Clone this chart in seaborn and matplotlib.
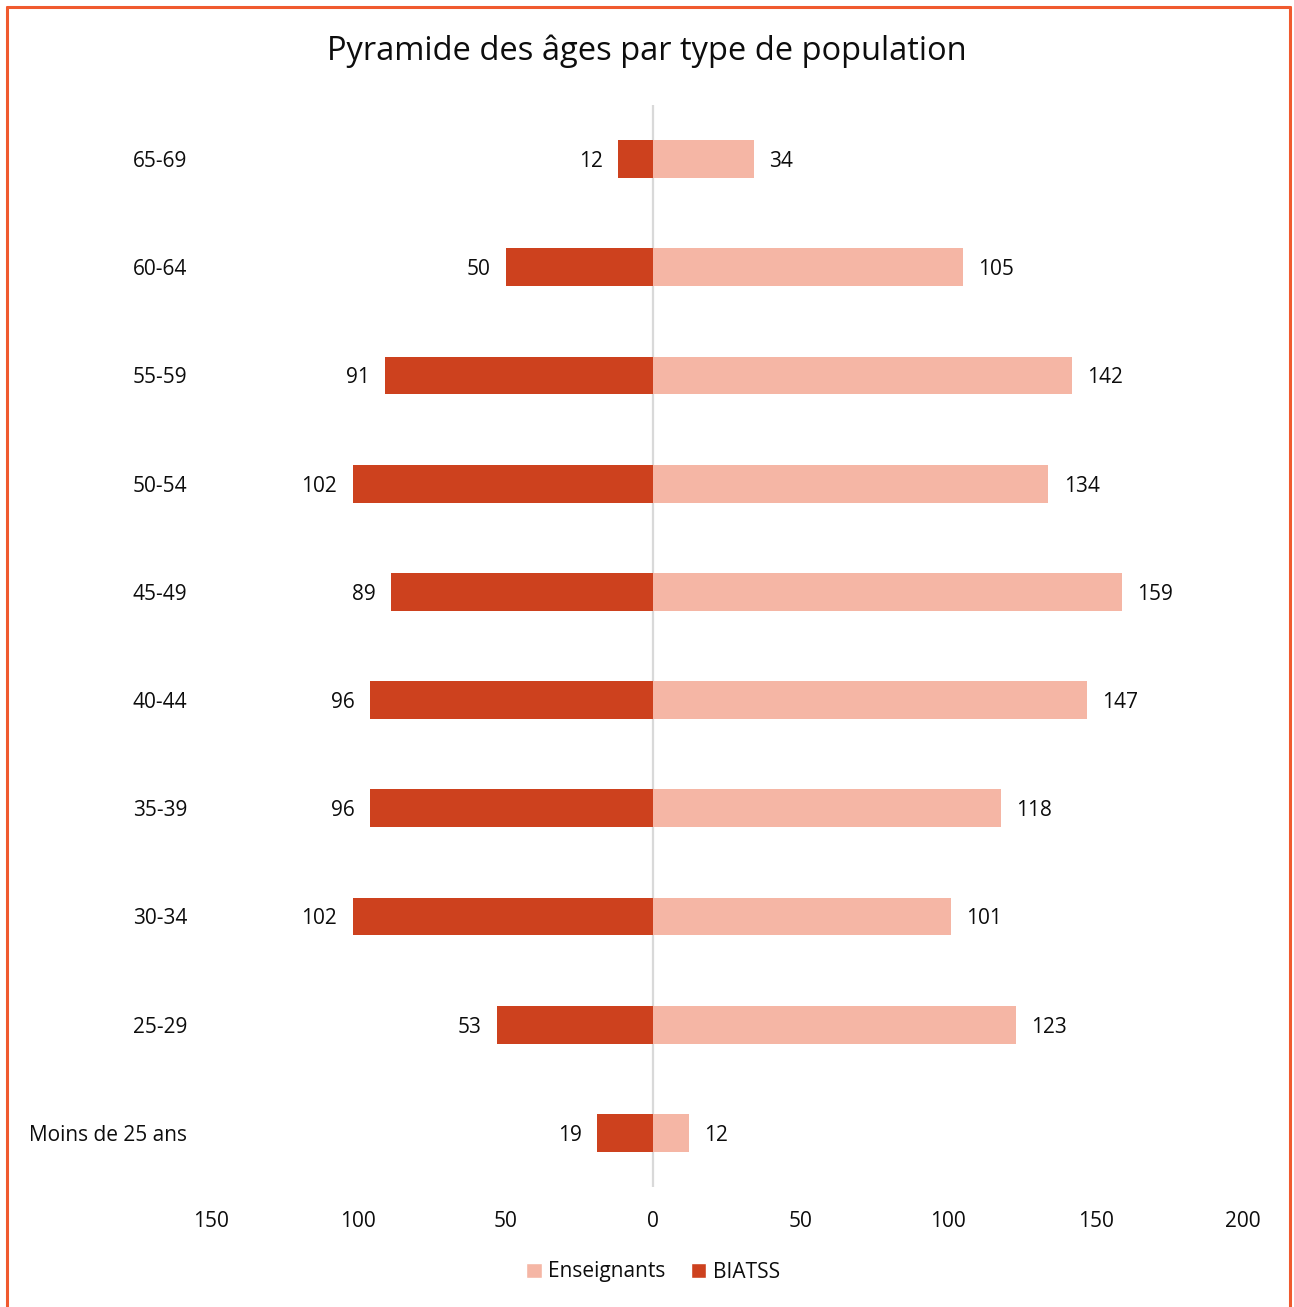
import matplotlib
matplotlib.use("Agg")
import matplotlib.pyplot as plt
import seaborn as sns
import pandas as pd
from matplotlib.patches import Patch
from matplotlib.lines import Line2D

categories = ["65-69", "60-64", "55-59", "50-54", "45-49", "40-44",
              "35-39", "30-34", "25-29", "Moins de 25 ans"]
enseignants = [34, 105, 142, 134, 159, 147, 118, 101, 123, 12]
biatss = [12, 50, 91, 102, 89, 96, 96, 102, 53, 19]
xticks = [-150, -100, -50, 0, 50, 100, 150, 200]

c_ens = "#F5B6A5"
c_bia = "#CD411E"
txt = "#0D0D0D"

sns.set_theme(style="white")
plt.rcParams['font.family'] = ['Open Sans', 'DejaVu Sans']

df = pd.DataFrame({"cat": categories,
                   "ens": enseignants,
                   "bia": [-v for v in biatss]})

fig = plt.figure(figsize=(12.94, 13.07), dpi=100)
ax = fig.add_axes([211/1294, 1-1187/1307, (1243-211)/1294, (1187-105)/1307])

sns.barplot(data=df, y="cat", x="ens", order=categories, color=c_ens,
            width=0.35, orient="h", ax=ax, saturation=1, linewidth=0)
sns.barplot(data=df, y="cat", x="bia", order=categories, color=c_bia,
            width=0.35, orient="h", ax=ax, saturation=1, linewidth=0)

t1 = ax.bar_label(ax.containers[0], labels=[str(v) for v in enseignants],
                  padding=11, fontsize=15, color=txt)
t2 = ax.bar_label(ax.containers[1], labels=[str(v) for v in biatss],
                  padding=11, fontsize=15, color=txt)
for t in list(t1) + list(t2):
    t.set_va("center_baseline")

ax.axvline(0, color="#D9D9D9", lw=1.6, zorder=0)
ax.set_xlim(-150, 200)
ax.set_ylim(9.5, -0.5)
ax.set_xticks(xticks)
ax.set_xticklabels([str(abs(v)) for v in xticks], fontsize=15, color=txt)
ax.tick_params(axis="x", length=0, pad=17)
ax.tick_params(axis="y", length=0, pad=17, labelsize=15, labelcolor=txt)
ax.set_xlabel("")
ax.set_ylabel("")
for s in ax.spines.values():
    s.set_visible(False)

fig.suptitle("Pyramide des âges par type de population", y=1-51/1307,
             va="center", fontsize=23.5, color=txt)

handles = [Patch(facecolor=c_ens, label="Enseignants"),
           Patch(facecolor=c_bia, label="BIATSS")]
fig.legend(handles=handles, loc="center", bbox_to_anchor=(653/1294, 1-1272/1307),
           ncol=2, frameon=False, fontsize=15, handlelength=0.75,
           handleheight=0.75, handletextpad=0.3, columnspacing=1.2,
           labelcolor=txt)

border = "#F05A2E"
fig.add_artist(Line2D([7/1294, 7/1294], [0, 1-7/1307], color=border, lw=2.2, transform=fig.transFigure))
fig.add_artist(Line2D([1290/1294, 1290/1294], [0, 1-7/1307], color=border, lw=2.2, transform=fig.transFigure))
fig.add_artist(Line2D([7/1294, 1290/1294], [1-7/1307, 1-7/1307], color=border, lw=2.2, transform=fig.transFigure))

fig.savefig("out.png", dpi=100)
